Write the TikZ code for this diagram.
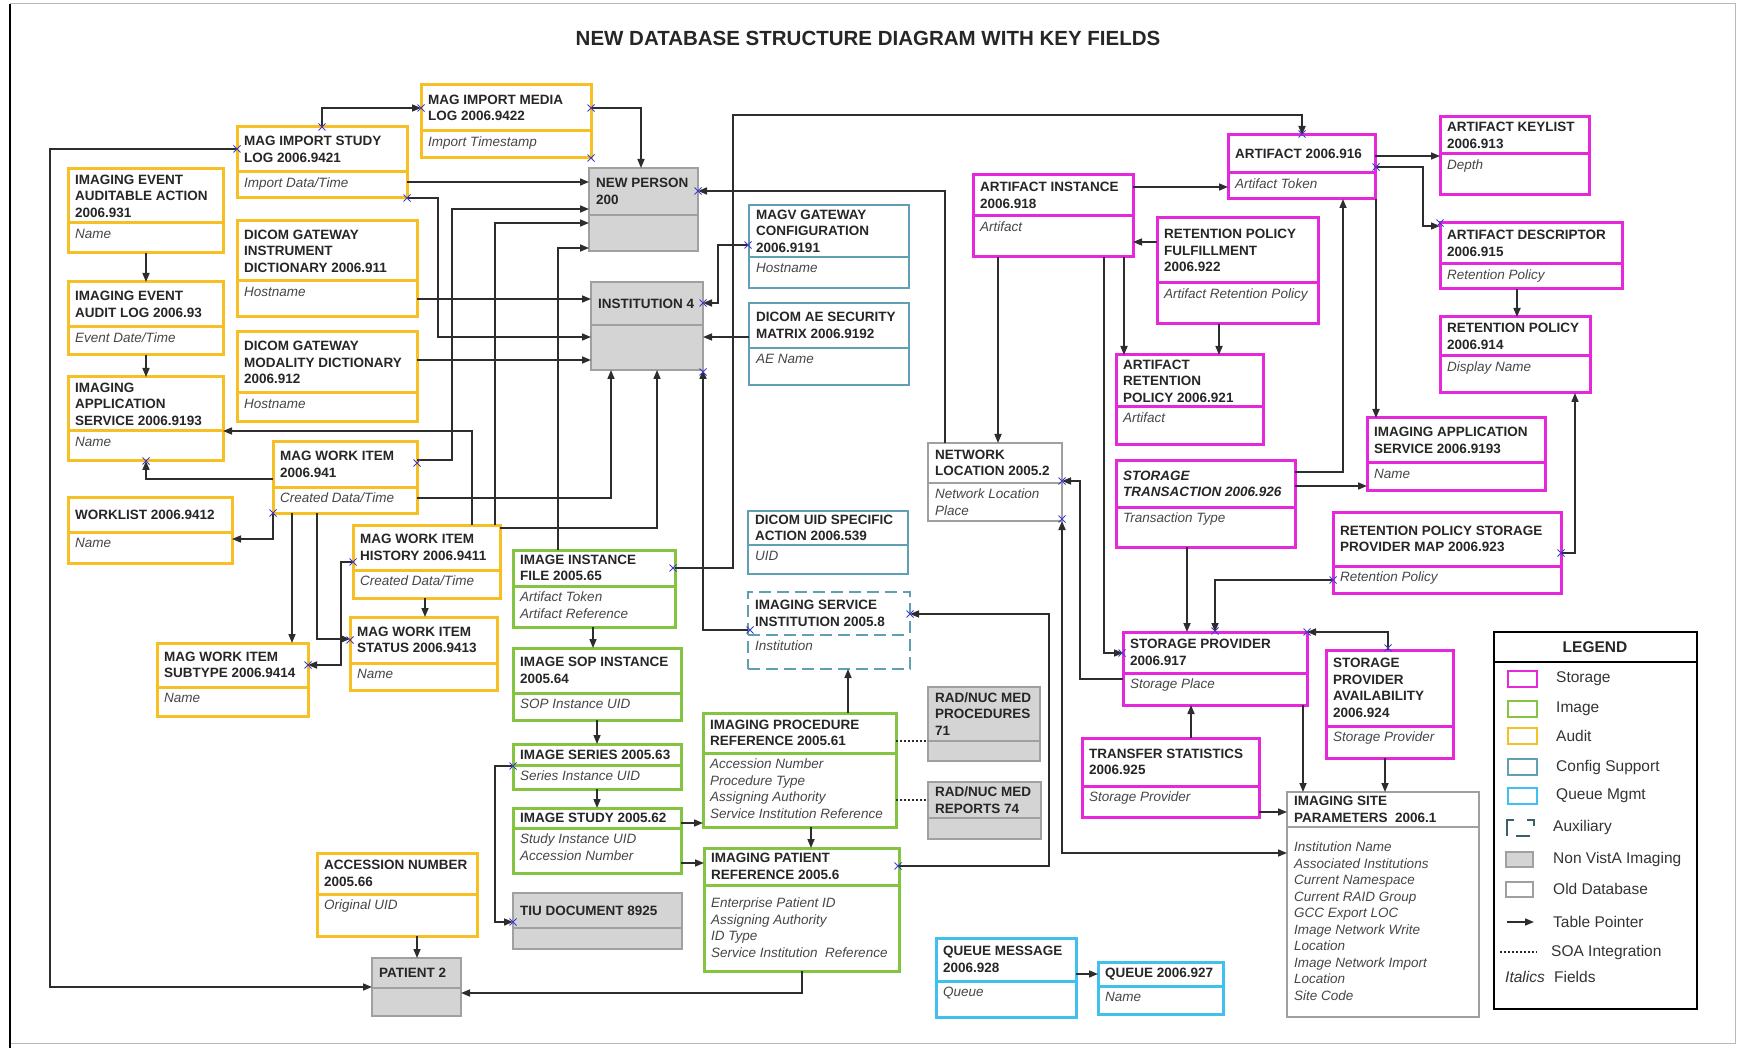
\documentclass[tikz,border=0pt]{standalone}
\usepackage{fontspec}
\setmainfont{Liberation Sans}
\usepackage{tikz}
\usetikzlibrary{calc, positioning, arrows.meta}
\definecolor{storagec}{RGB}{228,40,218}
\definecolor{imagec}{RGB}{132,196,64}
\definecolor{auditc}{RGB}{246,192,36}
\definecolor{configc}{RGB}{96,160,178}
\definecolor{queuec}{RGB}{64,192,238}
\definecolor{greyfill}{RGB}{212,212,212}
\definecolor{greyline}{RGB}{160,160,160}
\definecolor{linec}{RGB}{45,45,45}
\definecolor{fieldc}{RGB}{70,70,70}
\definecolor{xmarkc}{RGB}{60,60,200}

% table box: name, style, x1, y1, x2, y2, divider, title, fields
\newcommand{\tbl}[9]{%
  \pgfmathsetmacro{\tblw}{#5-#3}%
  \pgfmathsetmacro{\tblh}{#6-#4}%
  \node[tbox, #2, anchor=north west, minimum width=\tblw pt, minimum height=\tblh pt] (#1) at (#3,#4) {};
  \draw[#2] (#3,#7) -- (#5,#7);
  \node[ttl, anchor=west] (#1t) at (#3+7,{(#4+#7)/2}) {#8};
  \node[fld, anchor=north west] (#1f) at (#3+7,#7+6) {#9};
}

\begin{document}
\begin{tikzpicture}[x=1pt, y=-1pt,
  tbox/.style={draw, inner sep=0pt, outer sep=0pt},
  audit/.style={draw=auditc, line width=3pt},
  storage/.style={draw=storagec, line width=3pt},
  image/.style={draw=imagec, line width=3pt},
  queue/.style={draw=queuec, line width=3pt},
  config/.style={draw=configc, line width=1.6pt},
  aux/.style={draw=configc, line width=1.6pt, dash pattern=on 12pt off 6pt},
  nonvista/.style={draw=greyline, fill=greyfill, line width=1.6pt},
  olddb/.style={draw=greyline, line width=1.6pt},
  ttl/.style={font=\fontsize{13.5}{16.5}\selectfont\bfseries, text=black!85, align=left, inner sep=0pt},
  fld/.style={font=\fontsize{13.5}{16.5}\selectfont\itshape, text=fieldc, align=left, inner sep=0pt},
  ptr/.style={draw=linec, line width=1.6pt, -{Triangle[length=9pt,width=7pt]}},
  ptr2/.style={draw=linec, line width=1.6pt, {Triangle[length=9pt,width=7pt]}-{Triangle[length=9pt,width=7pt]}},
  soa/.style={draw=linec, line width=1.6pt, dash pattern=on 2pt off 2pt},
  xmk/.style={draw=xmarkc, line width=0.9pt},
  lgt/.style={anchor=west, font=\fontsize{15.5}{18}\selectfont, text=black!80, inner sep=0pt}]
\useasboundingbox (0,0) rectangle (1741,1048);
\draw[gray!55, line width=1pt] (10,4) -- (1735,4) -- (1735,1043) -- (10,1043);
\draw[black, line width=1.5pt] (10,4) -- (10,1048);

\node[font=\fontsize{20.5}{24}\selectfont\bfseries, text=black!85] (title) at (868,38) {NEW DATABASE STRUCTURE DIAGRAM WITH KEY FIELDS};

% nodes %
\tbl{misl}{audit}{237}{127}{407}{198}{172}{MAG IMPORT STUDY\\LOG 2006.9421}{Import Data/Time}
\tbl{miml}{audit}{421}{85}{591}{158}{131}{MAG IMPORT MEDIA\\LOG 2006.9422}{Import Timestamp}
\tbl{ieaa}{audit}{68}{169}{223}{253}{223}{IMAGING EVENT\\AUDITABLE ACTION\\2006.931}{Name}
\tbl{ieal}{audit}{68}{282}{223}{355}{327}{IMAGING EVENT\\AUDIT LOG 2006.93}{Event Date/Time}
\tbl{ias1}{audit}{68}{377}{223}{461}{431}{IMAGING\\APPLICATION\\SERVICE 2006.9193}{Name}
\tbl{dgid}{audit}{237}{221}{417}{317}{281}{DICOM GATEWAY\\INSTRUMENT\\DICTIONARY 2006.911}{Hostname}
\tbl{dgmd}{audit}{237}{332}{417}{422}{393}{DICOM GATEWAY\\MODALITY DICTIONARY\\2006.912}{Hostname}
\tbl{mwi}{audit}{273}{442}{417}{513}{487}{MAG WORK ITEM\\2006.941}{Created Data/Time}
\tbl{wl}{audit}{68}{497}{232}{563}{532}{WORKLIST 2006.9412}{Name}
\tbl{mwih}{audit}{353}{525}{500}{598}{570}{MAG WORK ITEM\\HISTORY 2006.9411}{Created Data/Time}
\tbl{mwis}{audit}{350}{617}{497}{690}{663}{MAG WORK ITEM\\STATUS 2006.9413}{Name}
\tbl{mwit}{audit}{157}{643}{308}{716}{687}{MAG WORK ITEM\\SUBTYPE 2006.9414}{Name}
\tbl{accn}{audit}{317}{853}{477}{936}{894}{ACCESSION NUMBER\\2005.66}{Original UID}

\tbl{np}{nonvista}{589}{168}{698}{251}{215}{NEW PERSON\\200}{}
\tbl{inst}{nonvista}{591}{282}{703}{370}{325}{INSTITUTION 4}{}
\tbl{pat}{nonvista}{372}{958}{461}{1016}{988}{PATIENT 2}{}
\tbl{tiu}{nonvista}{513}{893}{682}{949}{928}{TIU DOCUMENT 8925}{}
\tbl{rnp}{nonvista}{928}{687}{1040}{761}{741}{RAD/NUC MED\\PROCEDURES\\71}{}
\tbl{rnr}{nonvista}{928}{782}{1041}{839}{818}{RAD/NUC MED\\REPORTS 74}{}

\tbl{iif}{image}{513}{550}{675}{627}{586}{IMAGE INSTANCE\\FILE 2005.65}{Artifact Token\\Artifact Reference}
\tbl{isop}{image}{513}{648}{681}{720}{693}{IMAGE SOP INSTANCE\\2005.64}{SOP Instance UID}
\tbl{iser}{image}{513}{744}{681}{789}{765}{IMAGE SERIES 2005.63}{Series Instance UID}
\tbl{istd}{image}{513}{808}{681}{873}{828}{IMAGE STUDY 2005.62}{Study Instance UID\\Accession Number}
\tbl{ipr}{image}{703}{713}{896}{827}{753}{IMAGING PROCEDURE\\REFERENCE 2005.61}{Accession Number\\Procedure Type\\Assigning Authority\\Service Institution Reference}
\tbl{ipat}{image}{704}{848}{899}{971}{885}{IMAGING PATIENT\\REFERENCE 2005.6}{\rule{0pt}{16.7pt}Enterprise Patient ID\\Assigning Authority\\ID Type\\Service Institution\ \ Reference}

\tbl{magv}{config}{749}{205}{909}{288}{257}{MAGV GATEWAY\\CONFIGURATION\\2006.9191}{Hostname}
\tbl{dae}{config}{749}{303}{909}{385}{348}{DICOM AE SECURITY\\MATRIX 2006.9192}{AE Name}
\tbl{duid}{config}{748}{511}{908}{574}{545}{DICOM UID SPECIFIC\\ACTION 2006.539}{UID}
\tbl{isi}{aux}{748}{592}{910}{669}{635}{IMAGING SERVICE\\INSTITUTION 2005.8}{Institution}

\tbl{netl}{olddb}{928}{443}{1062}{521}{483}{NETWORK\\LOCATION 2005.2}{Network Location\\Place}
\tbl{isp}{olddb}{1287}{792}{1479}{1017}{827}{IMAGING SITE\\PARAMETERS\ \ 2006.1}{\rule{0pt}{18.7pt}Institution Name\\Associated Institutions\\Current Namespace\\Current RAID Group\\GCC Export LOC\\Image Network Write\\Location\\Image Network Import\\Location\\Site Code}

\tbl{ainst}{storage}{973}{175}{1133}{257}{216}{ARTIFACT INSTANCE\\2006.918}{Artifact}
\tbl{art}{storage}{1228}{135}{1375}{199}{173}{ARTIFACT 2006.916}{Artifact Token}
\tbl{akl}{storage}{1440}{117}{1589}{195}{154}{ARTIFACT KEYLIST\\2006.913}{Depth}
\tbl{adesc}{storage}{1440}{223}{1622}{289}{264}{ARTIFACT DESCRIPTOR\\2006.915}{Retention Policy}
\tbl{rpol}{storage}{1440}{317}{1590}{393}{356}{RETENTION POLICY\\2006.914}{Display Name}
\tbl{rpf}{storage}{1157}{218}{1318}{324}{283}{RETENTION POLICY\\FULFILLMENT\\2006.922}{Artifact Retention Policy}
\tbl{arp}{storage}{1116}{355}{1263}{445}{407}{ARTIFACT\\RETENTION\\POLICY 2006.921}{Artifact}
\tbl{stx}{storage}{1116}{461}{1295}{547}{507}{\textit{STORAGE}\\\textit{TRANSACTION 2006.926}}{Transaction Type}
\tbl{ias2}{storage}{1367}{418}{1545}{490}{463}{IMAGING APPLICATION\\SERVICE 2006.9193}{Name}
\tbl{rpsp}{storage}{1333}{512}{1561}{593}{566}{RETENTION POLICY STORAGE\\PROVIDER MAP 2006.923}{Retention Policy}
\tbl{sp}{storage}{1123}{632}{1307}{705}{673}{STORAGE PROVIDER\\2006.917}{Storage Place}
\tbl{spa}{storage}{1326}{650}{1453}{758}{726}{STORAGE\\PROVIDER\\AVAILABILITY\\2006.924}{Storage Provider}
\tbl{tst}{storage}{1082}{738}{1259}{817}{786}{TRANSFER STATISTICS\\2006.925}{Storage Provider}

\tbl{qmsg}{queue}{936}{938}{1076}{1017}{981}{QUEUE MESSAGE\\2006.928}{Queue}
\tbl{que}{queue}{1098}{962}{1223}{1014}{986}{QUEUE 2006.927}{Name}

% edges %
\draw[ptr] (322,0 |- misl.north) |- (miml.west |- 0,108);
\draw[ptr] (miml.east |- 0,108) -| (641,0 |- np.north);
\draw[ptr] (misl.east |- 0,182) -- (np.west |- 0,182);
\draw[ptr] (misl.south east) -| (438,337) -- (inst.west |- 0,337);
\draw[ptr] (dgid.east |- 0,299) -- (inst.west |- 0,299);
\draw[ptr] (dgmd.east |- 0,360) -- (inst.west |- 0,360);
\draw[ptr] (mwi.east |- 0,460) -| (452,209) -- (np.west |- 0,209);
\draw[ptr] (495,0 |- mwih.north) |- (np.west |- 0,223);
\draw[ptr] (558,0 |- iif.north) |- (np.west |- 0,248);
\draw[ptr] (mwi.east |- 0,498) -| (611,0 |- inst.south);
\draw[ptr] (mwih.east |- 0,528) -| (657,0 |- inst.south);
\draw[ptr] (isi.west |- 0,630) -| (inst.south east);
\draw[ptr] (magv.west |- 0,245) -| (718,303) -- (inst.east |- 0,303);
\draw[ptr] (dae.west |- 0,337) -- (inst.east |- 0,337);
\draw[ptr] (945,0 |- netl.north) |- (np.east |- 0,191);
\draw[ptr] (iif.east |- 0,568) -| (733,115) -| (1302,0 |- art.north);
\draw[ptr] (472,0 |- mwih.north) |- (ias1.east |- 0,431);
\draw[ptr] (mwi.west |- 0,479) -| (146,0 |- ias1.south);
\draw[ptr] (mwi.south west) |- (wl.east |- 0,539);
\draw[ptr] (292,0 |- mwi.south) -- (292,0 |- mwit.north);
\draw[ptr] (317,0 |- mwi.south) |- (mwis.west |- 0,639);
\draw[ptr] (mwih.west |- 0,562) -| (341,665) -- (mwit.east |- 0,665);
\draw[ptr] (425,0 |- mwih.south) -- (425,0 |- mwis.north);
\draw[ptr] (146,0 |- ieaa.south) -- (146,0 |- ieal.north);
\draw[ptr] (146,0 |- ieal.south) -- (146,0 |- ias1.north);
\draw[ptr] (misl.west |- 0,149) -| (50,987) -- (pat.west |- 0,987);
\draw[ptr] (417,0 |- accn.south) -- (417,0 |- pat.north);
\draw[ptr] (802,0 |- ipat.south) |- (pat.east |- 0,993);
\draw[ptr] (593,0 |- iif.south) -- (593,0 |- isop.north);
\draw[ptr] (597,0 |- isop.south) -- (597,0 |- iser.north);
\draw[ptr] (597,0 |- iser.south) -- (597,0 |- istd.north);
\draw[ptr] (iser.west |- 0,766) -| (495,922) -- (tiu.west |- 0,922);
\draw[ptr] (istd.east |- 0,823) -- (ipr.west |- 0,823);
\draw[ptr] (istd.east |- 0,863) -- (ipat.west |- 0,863);
\draw[ptr] (811,0 |- ipr.south) -- (811,0 |- ipat.north);
\draw[ptr] (848,0 |- ipr.north) -- (848,0 |- isi.south);
\draw[ptr] (ipat.east |- 0,866) -| (1049,614) -- (isi.east |- 0,614);
\draw[soa] (ipr.east |- 0,741) -- (rnp.west |- 0,741);
\draw[soa] (ipr.east |- 0,800) -- (rnr.west |- 0,800);

\draw[ptr] (ainst.east |- 0,187) -- (art.west |- 0,187);
\draw[ptr] (rpf.west |- 0,242) -- (ainst.east |- 0,242);
\draw[ptr] (998,0 |- ainst.south) -- (998,0 |- netl.north);
\draw[ptr] (1124,0 |- ainst.south) -- (1124,0 |- arp.north);
\draw[ptr] (1219,0 |- rpf.south) -- (1219,0 |- arp.north);
\draw[ptr] (1104,0 |- ainst.south) |- (sp.west |- 0,653);
\draw[ptr] (art.east |- 0,156) -- (akl.west |- 0,156);
\draw[ptr] (art.east |- 0,167) -| (1423,226) -- (adesc.west |- 0,226);
\draw[ptr] (1517,0 |- adesc.south) -- (1517,0 |- rpol.north);
\draw[ptr] (1376,0 |- art.south) -- (1376,0 |- ias2.north);
\draw[ptr] (stx.east |- 0,472) -| (1343,0 |- art.south);
\draw[ptr] (stx.east |- 0,486) -- (ias2.west |- 0,486);
\draw[ptr] (1187,0 |- stx.south) -- (1187,0 |- sp.north);
\draw[ptr] (rpsp.west |- 0,580) -| (1215,0 |- sp.north);
\draw[ptr] (rpsp.east |- 0,553) -| (1575,0 |- rpol.south);
\draw[ptr] (1388,0 |- spa.north) |- (sp.north east);
\draw[ptr] (1303,0 |- sp.south) -- (1303,0 |- isp.north);
\draw[ptr] (1385,0 |- spa.south) -- (1385,0 |- isp.north);
\draw[ptr] (1191,0 |- tst.north) -- (1191,0 |- sp.south);
\draw[ptr] (tst.east |- 0,812) -- (isp.west |- 0,812);
\draw[ptr] (sp.west |- 0,679) -| (1080,481) -- (netl.east |- 0,481);
\draw[ptr2] (netl.south east) |- (isp.west |- 0,853);
\draw[ptr] (qmsg.east |- 0,974) -- (que.west |- 0,974);

% connection marks %
\foreach \x/\y in {322/127, 237/149, 407/198, 421/108, 591/108, 591/158, 698/191, 748/245,
  703/303, 703/372, 1302/134, 1376/167, 1440/223, 146/461, 417/463, 273/513, 353/562,
  350/640, 308/665, 673/568, 750/630, 910/614, 1062/481, 1062/519, 1122/653, 1215/631,
  1307/632, 1388/648, 1561/553, 1333/580, 513/766, 513/922, 898/866}
  \draw[xmk] (\x-3.5,\y-3.5) -- (\x+3.5,\y+3.5) (\x-3.5,\y+3.5) -- (\x+3.5,\y-3.5);

% legend %
\node[draw=black, line width=2pt, inner sep=0pt, outer sep=0pt, anchor=north west,
  minimum width=203pt, minimum height=377pt] (leg) at (1494,632) {};
\draw[black, line width=2pt] (leg.west |- 0,662) -- (leg.east |- 0,662);
\node[font=\fontsize{15.5}{18}\selectfont\bfseries, text=black!85] (legt) at (1595,647) {LEGEND};
\foreach \t/\yy/\cc [count=\i] in {Storage/679/storagec, Image/709/imagec, Audit/736/auditc,
  Config Support/767/configc, Queue Mgmt/796/queuec}{
  \draw[draw=\cc, line width=2pt] (1508,\yy-8) rectangle (1537,\yy+8);
  \node[lgt] (lg\i) at (1556,\yy) {\t};
}
\draw[configc!60!black, line width=2pt] (1507,836) -- (1507,820) -- (1514,820)
  (1527,820) -- (1534,820) -- (1534,826) (1516,836) -- (1530,836);
\node[lgt] (lgaux) at (1553,827) {Auxiliary};
\draw[nonvista] (1506,852) rectangle (1533,867);
\node[lgt] (lgnv) at (1553,859) {Non VistA Imaging};
\draw[olddb] (1506,882) rectangle (1533,897);
\node[lgt] (lgold) at (1553,889) {Old Database};
\draw[ptr] (1507,922) -- (1534,922);
\node[lgt] (lgptr) at (1553,922) {Table Pointer};
\draw[soa] (1500,952) -- (1537,952);
\node[lgt] (lgsoa) at (1551,952) {SOA Integration};
\node[lgt, font=\fontsize{15.5}{18}\selectfont\itshape] (lgit) at (1505,977) {Italics};
\node[lgt] (lgfld) at (1554,977) {Fields};
\end{tikzpicture}
\end{document}
